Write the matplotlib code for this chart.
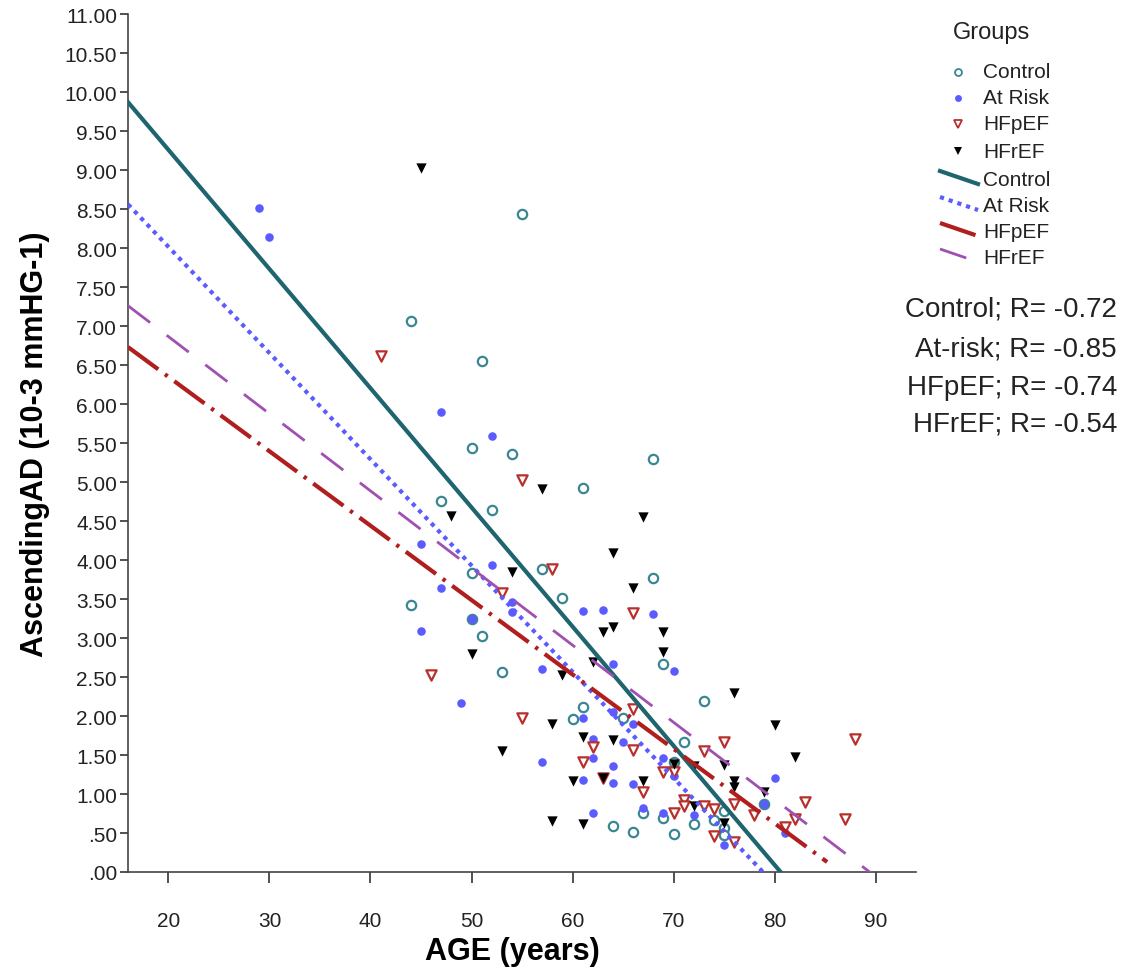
import matplotlib
matplotlib.use("Agg")
from matplotlib import pyplot as plt
from matplotlib.ticker import FuncFormatter, MultipleLocator
import numpy as np

# scatter data (age in years, AscendingAD)
control_age = [44, 55, 51, 50, 54, 68, 61, 47, 52, 57, 50, 68, 59, 44, 50, 51, 53, 69,
               73, 61, 60, 65, 71, 70, 67, 69, 64, 66, 70, 72, 74, 75, 75, 75, 79]
control_val = [7.07, 8.44, 6.55, 5.43, 5.36, 5.29, 4.92, 4.76, 4.64, 3.88, 3.83, 3.77,
               3.51, 3.42, 3.25, 3.02, 2.56, 2.67, 2.19, 2.12, 1.96, 1.97, 1.67, 1.41,
               0.76, 0.69, 0.59, 0.51, 0.49, 0.62, 0.67, 0.78, 0.57, 0.47, 0.87]

atrisk_age = [29, 30, 47, 52, 45, 52, 47, 54, 54, 50, 45, 57, 49, 61, 63, 68, 64, 70,
              61, 64, 66, 65, 62, 62, 57, 64, 69, 70, 61, 64, 66, 62, 67, 69, 72, 75,
              80, 79, 81]
atrisk_val = [8.51, 8.14, 5.90, 5.59, 4.20, 3.93, 3.64, 3.46, 3.33, 3.25, 3.09, 2.60,
              2.17, 3.34, 3.36, 3.31, 2.67, 2.58, 1.98, 2.05, 1.90, 1.67, 1.71, 1.46,
              1.41, 1.36, 1.46, 1.23, 1.18, 1.14, 1.13, 0.76, 0.82, 0.76, 0.73, 0.35,
              1.21, 0.87, 0.50]

hfpef_age = [41, 55, 58, 53, 66, 46, 55, 66, 62, 66, 61, 69, 70, 63, 67, 70, 71, 71,
             73, 74, 75, 73, 76, 78, 81, 82, 83, 88, 87, 74, 76]
hfpef_val = [6.62, 5.02, 3.88, 3.58, 3.32, 2.52, 1.97, 2.09, 1.60, 1.57, 1.41, 1.28,
             1.28, 1.20, 1.02, 0.76, 0.92, 0.85, 0.85, 0.81, 1.67, 1.55, 0.87, 0.73,
             0.58, 0.68, 0.90, 1.71, 0.68, 0.46, 0.39]

hfref_age = [45, 57, 48, 67, 64, 54, 66, 64, 63, 69, 69, 50, 62, 59, 58, 61, 64, 53,
             70, 60, 63, 67, 58, 61, 72, 76, 80, 82, 72, 75, 76, 76, 79, 75]
hfref_val = [9.02, 4.91, 4.57, 4.55, 4.09, 3.85, 3.64, 3.14, 3.08, 3.08, 2.82, 2.80,
             2.69, 2.52, 1.90, 1.73, 1.69, 1.55, 1.38, 1.17, 1.20, 1.17, 0.66, 0.62,
             0.85, 2.29, 1.88, 1.47, 1.36, 1.37, 1.17, 1.09, 1.02, 0.63]

# fit lines: value at age 16 and slope, plus where each line stops
fit_names = ["Control", "At Risk", "HFpEF", "HFrEF"]
fit_start = [9.87, 8.56, 6.73, 7.26]
fit_slope = [-0.1528, -0.1362, -0.0954, -0.0989]
fit_end_age = [94, 94, 85.2, 94]

r_labels = ["Control; R= -0.72", "At-risk; R= -0.85", "HFpEF; R= -0.74", "HFrEF; R= -0.54"]

teal = "#3a8693"
teal_line = "#1e6570"
blue = "#5b5bff"
red = "#b8302c"
red_line = "#b01e1e"
purple = "#a050b0"

plt.rcParams['font.family'] = ['Liberation Sans', 'DejaVu Sans']

fig = plt.figure(figsize=(11.27, 9.70), dpi=100)
ax = fig.add_axes([0.1136, 0.1, 0.6992, 0.8845])

ax.scatter(control_age, control_val, s=45, marker='o', facecolors='white',
           edgecolors=teal, linewidths=1.6, zorder=3)
ax.scatter(atrisk_age, atrisk_val, s=38, marker='o', color=blue, linewidths=0, zorder=3)
ax.scatter(hfpef_age, hfpef_val, s=55, marker='v', facecolors='white',
           edgecolors=red, linewidths=1.6, zorder=3)
ax.scatter(hfref_age, hfref_val, s=55, marker='v', color='black', linewidths=0, zorder=3)

line_styles = [
    dict(color=teal_line, lw=3, linestyle='-'),
    dict(color=blue, lw=3, linestyle=(0, (1, 1.2))),
    dict(color=red_line, lw=3, linestyle=(0, (9, 2, 0.8, 2))),
    dict(color=purple, lw=2, linestyle=(0, (10, 7.5))),
]
for i in range(len(fit_names)):
    xs = np.array([16, fit_end_age[i]])
    ys = fit_start[i] + fit_slope[i] * (xs - 16)
    ax.plot(xs, ys, zorder=4, **line_styles[i])

ax.set_xlim(16, 94)
ax.set_ylim(0, 11)
ax.xaxis.set_major_locator(MultipleLocator(10))
ax.yaxis.set_major_locator(MultipleLocator(0.5))
ax.yaxis.set_major_formatter(FuncFormatter(lambda v, p: ("%.2f" % v).lstrip("0") if v < 1 else "%.2f" % v))
for s in ["top", "right"]:
    ax.spines[s].set_visible(False)
for s in ["left", "bottom"]:
    ax.spines[s].set_color("#444444")
    ax.spines[s].set_linewidth(1.2)
ax.tick_params(axis='y', length=6, width=1.2, color="#333333", labelsize=15, pad=2)
ax.tick_params(axis='x', length=8, width=1.2, color="#333333", labelsize=15, pad=20)
for lab in ax.get_xticklabels() + ax.get_yticklabels():
    lab.set_color("#222222")

ax.set_xlabel("AGE (years)", fontsize=22, fontweight='bold', labelpad=2)
ax.xaxis.set_label_coords(0.488, -0.075)
ax.set_ylabel("AscendingAD (10-3 mmHG-1)", fontsize=22, fontweight='bold', labelpad=10)

# legend drawn in a pixel-coordinate overlay
lg = fig.add_axes([0, 0, 1, 1], facecolor='none')
lg.set_xlim(0, 1127)
lg.set_ylim(970, 0)
lg.axis('off')
lg.text(953, 33, "Groups", fontsize=17, va='center', ha='left', color="#222222")
marker_rows = [73, 99, 125, 152]
lg.plot(958, marker_rows[0], marker='o', ms=5, mfc='white', mec=teal, mew=1.3)
lg.plot(958, marker_rows[1], marker='o', ms=5, mfc=blue, mec=blue, mew=0)
lg.plot(958, marker_rows[2], marker='v', ms=6, mfc='white', mec=red, mew=1.3)
lg.plot(958, marker_rows[3], marker='v', ms=6, mfc='black', mec='black', mew=0)
line_rows = [181, 207, 233, 259]
for i in range(4):
    y = line_rows[i]
    lg.plot([940, 978], [y - 9, y + 4], **line_styles[i])
for i, y in enumerate(marker_rows + line_rows):
    lg.text(983, y, fit_names[i % 4], fontsize=15, va='center', ha='left', color="#222222")

for i, y in enumerate([310, 350, 388, 425]):
    lg.text(1117, y, r_labels[i], fontsize=20, va='center', ha='right', color="#222222")

plt.savefig("out.png", dpi=100)
